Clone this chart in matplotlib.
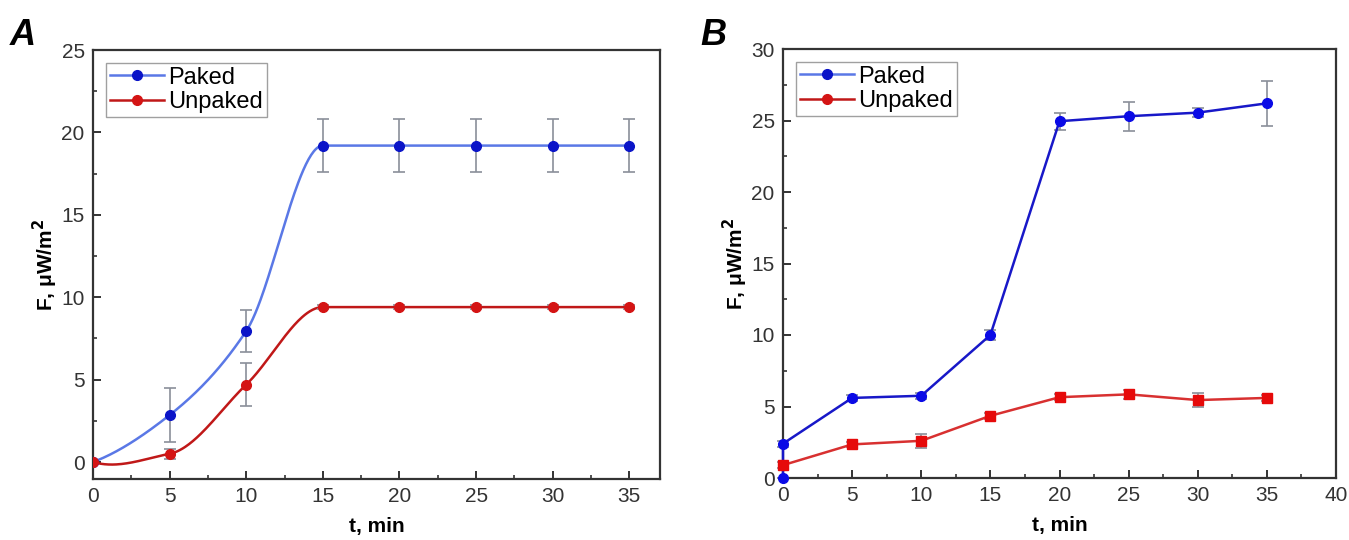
import numpy as np
import matplotlib.pyplot as plt
from matplotlib.lines import Line2D
from matplotlib.ticker import MultipleLocator

plt.rcParams['font.family'] = ['Liberation Sans', 'DejaVu Sans']

# panel A
t_a = [0, 5, 10, 15, 20, 25, 30, 35]
paked_a = [0, 2.85, 7.95, 19.2, 19.2, 19.2, 19.2, 19.2]
paked_a_err = [0, 1.65, 1.3, 1.6, 1.6, 1.6, 1.6, 1.6]
unpaked_a = [0, 0.5, 4.7, 9.4, 9.4, 9.4, 9.4, 9.4]
unpaked_a_err = [0, 0.3, 1.3, 0.1, 0.1, 0.1, 0.1, 0.1]

# panel B
t_b_paked = [0, 0, 5, 10, 15, 20, 25, 30, 35]
paked_b = [0, 2.4, 5.6, 5.75, 10.0, 24.95, 25.3, 25.55, 26.2]
paked_b_err = [0, 0.2, 0.2, 0.2, 0.35, 0.6, 1.0, 0.3, 1.55]
t_b = [0, 5, 10, 15, 20, 25, 30, 35]
unpaked_b = [0.9, 2.35, 2.6, 4.35, 5.65, 5.85, 5.45, 5.6]
unpaked_b_err = [0.2, 0.2, 0.5, 0.2, 0.2, 0.3, 0.5, 0.2]


def spline_line(x, y, n=60):
    # piecewise cubic hermite (pchip-like slopes, plain 3-point end slopes)
    x = np.asarray(x, float)
    y = np.asarray(y, float)
    h = np.diff(x)
    d = np.diff(y) / h
    m = np.zeros_like(y)
    for k in range(1, len(x) - 1):
        if d[k - 1] * d[k] > 0:
            w1 = 2 * h[k] + h[k - 1]
            w2 = h[k] + 2 * h[k - 1]
            m[k] = (w1 + w2) / (w1 / d[k - 1] + w2 / d[k])
    m[0] = ((2 * h[0] + h[1]) * d[0] - h[0] * d[1]) / (h[0] + h[1])
    m[-1] = ((2 * h[-1] + h[-2]) * d[-1] - h[-1] * d[-2]) / (h[-1] + h[-2])
    xs, ys = [], []
    for k in range(len(x) - 1):
        s = np.linspace(0, 1, n)
        h00 = 2 * s**3 - 3 * s**2 + 1
        h10 = s**3 - 2 * s**2 + s
        h01 = -2 * s**3 + 3 * s**2
        h11 = s**3 - s**2
        xs.append(x[k] + s * h[k])
        ys.append(h00 * y[k] + h10 * h[k] * m[k] + h01 * y[k + 1] + h11 * h[k] * m[k + 1])
    return np.concatenate(xs), np.concatenate(ys)


fig = plt.figure(figsize=(13.49, 5.40), dpi=100)
axA = fig.add_axes([93 / 1349, 61 / 540, 567 / 1349, 429 / 540])
axB = fig.add_axes([783 / 1349, 62 / 540, 553 / 1349, 429 / 540])

errc = '#8a8f99'

# A
xs, ys = spline_line(t_a, paked_a)
axA.plot(xs, ys, color='#5a78e6', lw=1.8, zorder=2)
xs, ys = spline_line(t_a, unpaked_a)
axA.plot(xs, ys, color='#c01818', lw=1.8, zorder=2)
axA.errorbar(t_a, paked_a, yerr=paked_a_err, fmt='o', color='#0a14c8', ms=7,
             ecolor=errc, elinewidth=1.2, capsize=4, capthick=1.2, zorder=3)
axA.errorbar(t_a, unpaked_a, yerr=unpaked_a_err, fmt='o', color='#d41414', ms=7,
             ecolor=errc, elinewidth=1.2, capsize=4, capthick=1.2, zorder=3)
axA.set_xlim(0, 37)
axA.set_ylim(-1.03, 25)
axA.xaxis.set_major_locator(MultipleLocator(5))
axA.xaxis.set_minor_locator(MultipleLocator(2.5))
axA.yaxis.set_major_locator(MultipleLocator(5))
axA.yaxis.set_minor_locator(MultipleLocator(2.5))

# B
axB.errorbar(t_b_paked, paked_b, yerr=paked_b_err, fmt='-o', color='#1818c8', mfc='#0a0ae6',
             mec='#0a0ae6', ms=7, lw=1.8, ecolor=errc, elinewidth=1.2, capsize=4,
             capthick=1.2, clip_on=False, zorder=3)
axB.errorbar(t_b, unpaked_b, yerr=unpaked_b_err, fmt='-s', color='#d83030', mfc='#e60a0a',
             mec='#e60a0a', ms=6.5, lw=1.8, ecolor=errc, elinewidth=1.2, capsize=4,
             capthick=1.2, clip_on=False, zorder=3)
axB.set_xlim(0, 40)
axB.set_ylim(0, 30)
axB.xaxis.set_major_locator(MultipleLocator(5))
axB.xaxis.set_minor_locator(MultipleLocator(2.5))
axB.yaxis.set_major_locator(MultipleLocator(5))
axB.yaxis.set_minor_locator(MultipleLocator(2.5))

handles = [Line2D([], [], color='#5a78e6', lw=1.8, marker='o', mfc='#0a14c8', mec='#0a14c8', ms=7),
           Line2D([], [], color='#c01818', lw=1.8, marker='o', mfc='#d41414', mec='#d41414', ms=7)]

for ax, lab, lx in [(axA, 'A', 10), (axB, 'B', 700)]:
    for s in ax.spines.values():
        s.set_linewidth(1.6)
        s.set_color('#333333')
    ax.tick_params(which='major', direction='in', length=6, width=1.4, labelsize=15,
                   colors='#333333', pad=6)
    ax.tick_params(which='minor', direction='in', length=3, width=1.2, colors='#333333')
    ax.set_xlabel('t, min', fontsize=15, fontweight='bold', labelpad=8)
    ax.set_ylabel('F, \u03bcW/m$^{\\mathbf{2}}$', fontsize=15, fontweight='bold', labelpad=1)
    leg = ax.legend(handles, ['Paked', 'Unpaked'], loc='upper left', fontsize=17,
                    frameon=True, fancybox=False, handlelength=2.3, borderpad=0.15,
                    labelspacing=0.12, handletextpad=0.2, borderaxespad=0.55)
    leg.get_frame().set_edgecolor('#888888')
    leg.get_frame().set_linewidth(1.0)
    fig.text(lx / 1349, 1 - 45 / 540, lab, fontsize=26, fontweight='bold',
             fontstyle='italic')

fig.savefig('out.png', dpi=100)
